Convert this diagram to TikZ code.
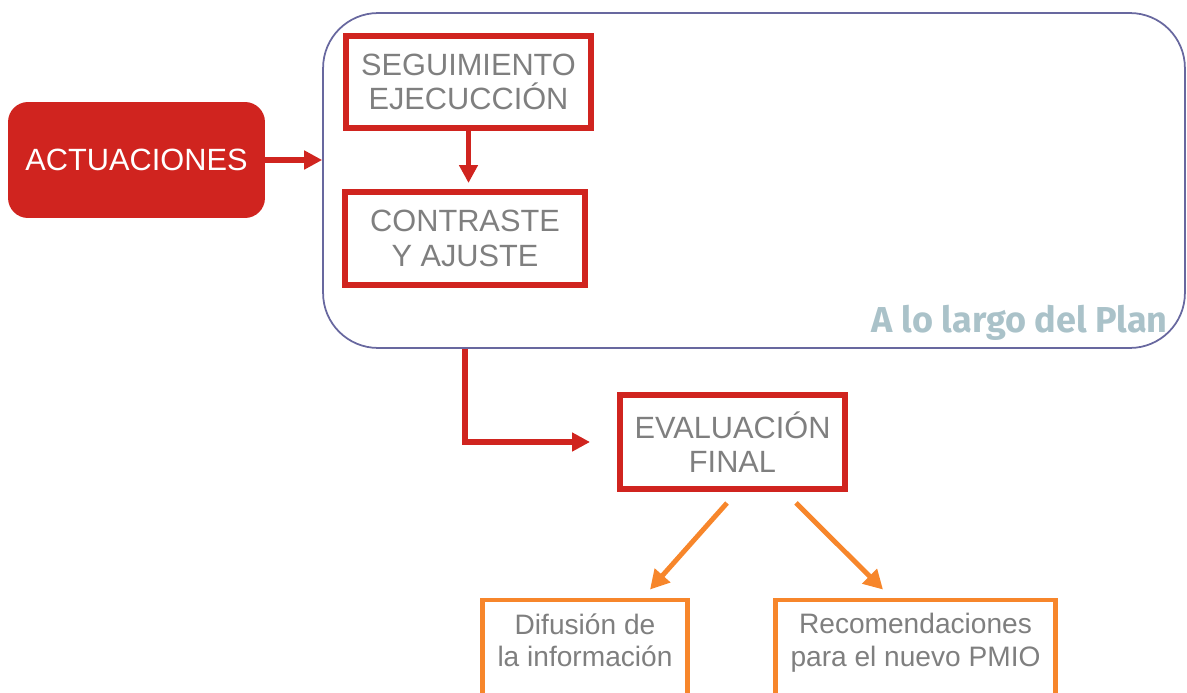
\documentclass[tikz,border=0pt]{standalone}
\usepackage{fontspec}
\setmainfont{Liberation Sans}
\newfontfamily\planfont{Fira Sans}
\usetikzlibrary{arrows.meta, calc}
\definecolor{myred}{RGB}{208, 36, 31}
\definecolor{myorange}{RGB}{247, 134, 43}
\definecolor{mygray}{RGB}{127, 127, 127}
\definecolor{myframe}{RGB}{104, 104, 159}
\definecolor{myplan}{RGB}{170, 194, 201}

\begin{document}
\begin{tikzpicture}[
            x=0.02cm, y=-0.02cm,
            redbox/.style={
                rectangle,
                draw=myred,
                line width=3.4pt,
                text=mygray,
                align=center,
                inner sep=0pt,
                font=\fontsize{17.5}{19.5}\selectfont
            },
            orangebox/.style={
                rectangle,
                draw=myorange,
                line width=2.8pt,
                text=mygray,
                align=center,
                inner sep=0pt,
                text depth=0.4cm,
                font=\fontsize{16}{18.5}\selectfont
            },
            redarrow/.style={
                draw=myred,
                line width=3pt,
                -{Triangle[length=0.36cm, width=0.36cm]}
            },
            orangearrow/.style={
                draw=myorange,
                line width=2.8pt,
                -{Triangle[length=0.38cm, width=0.4cm]}
            }
        ]

            \useasboundingbox (0,0) rectangle (1187,693);
            \clip (0,0) rectangle (1187,693);

            % Nodes
            \node[rectangle, rounded corners=1.1cm, draw=myframe, line width=1pt,
                minimum width=17.24cm, minimum height=6.7cm] (plan) at (754,180.5) {};

            \node[anchor=base east, text=myplan, inner sep=0pt,
                font=\planfont\bfseries\fontsize{20.5}{24}\selectfont] (lema) at (1168,332) {A lo largo del Plan};

            \node[rectangle, rounded corners=0.4cm, fill=myred, text=white,
                minimum width=5.14cm, minimum height=2.32cm,
                font=\fontsize{17.5}{19.5}\selectfont] (actuaciones) at (136.5,160) {ACTUACIONES};

            \node[redbox, minimum width=4.9cm, minimum height=1.84cm] (seguimiento) at (468.5,82) {SEGUIMIENTO\\EJECUCCIÓN};

            \node[redbox, minimum width=4.8cm, minimum height=1.86cm] (contraste) at (465,238.5) {CONTRASTE\\Y AJUSTE};

            \node[redbox, minimum width=4.5cm, minimum height=1.88cm] (evaluacion) at (732.5,442) {EVALUACIÓN\\FINAL};

            \node[orangebox, minimum width=4.1cm, minimum height=2cm] (difusion) at (585,650) {Difusión de\\la información};

            \node[orangebox, minimum width=5.6cm, minimum height=2cm] (recomendaciones) at (915.5,650) {Recomendaciones\\para el nuevo PMIO};

            % Arrows
            \draw[redarrow] (actuaciones.east) -- (actuaciones.east -| plan.west);
            \draw[redarrow, shorten >=0.12cm] (seguimiento.south) -- (seguimiento.south |- contraste.north);
            \draw[redarrow] (contraste.south |- plan.south) -- (contraste.south |- evaluacion.west) -- ([xshift=-0.54cm]evaluacion.west);
            \draw[orangearrow] ($(evaluacion.south)+(-5.5,11)$) -- ($(difusion.north)+(65,-8)$);
            \draw[orangearrow] ($(evaluacion.south)+(63.5,11)$) -- ($(recomendaciones.north)+(-32.5,-8)$);
        \end{tikzpicture}
\end{document}
